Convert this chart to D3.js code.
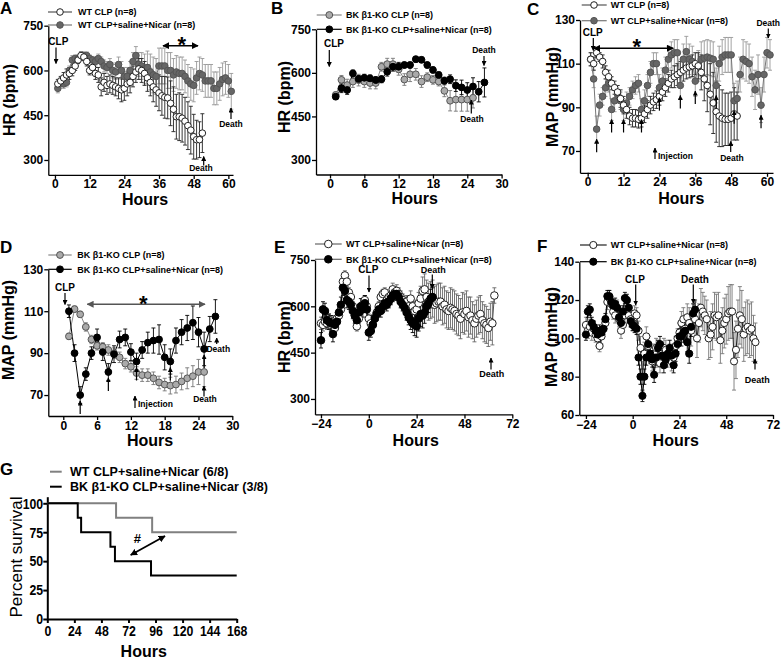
<!DOCTYPE html>
<html><head><meta charset="utf-8">
<script src="https://cdn.jsdelivr.net/npm/d3@7"></script>
<style>body{margin:0;background:#fff}</style>
</head><body><svg id="c" width="781" height="659" style="background:#fff"></svg>
<script>
// ================= DATA =================
// Panel A: HR, WT
const A_wtClp_start = 1;
const A_wtClp = [555,565,575,585,590,600,615,635,650,645,630,600,610,590,585,545,560,550,555,550,545,540,535,540,555,560,580,595,605,600,590,575,560,545,535,525,515,510,508,490,470,445,445,440,430,415,400,378,368,368,390];
const A_wtClp_sem = [15,15,18,20,20,18,15,12,12,12,15,15,18,20,25,30,30,30,30,30,30,35,40,40,40,35,35,35,35,40,40,45,45,50,55,60,65,70,70,75,75,75,80,80,80,80,80,75,65,60,65];
const A_wtNicar_start = 1;
const A_wtNicar = [540,560,555,560,600,635,640,640,645,650,650,640,635,630,640,630,615,610,620,600,595,620,600,580,580,600,630,650,620,615,605,610,595,585,580,615,615,615,600,600,585,595,590,590,580,565,555,550,575,590,585,565,565,565,540,540,555,570,575,565,530];
const A_wtNicar_sem = [15,15,15,15,15,15,12,12,12,12,12,12,12,15,15,15,20,20,20,25,25,25,30,30,30,30,30,30,40,45,50,55,60,60,60,60,60,60,60,60,55,55,55,55,55,55,55,55,55,55,55,55,55,55,55,55,55,55,55,55,60];

// Panel B: HR, BK b1-KO
const B_koClp_start = 1;
const B_koClp = [524,576,558,570,575,570,565,565,621,630,630,612,577,595,595,570,585,576,570,538,504,508,508,508,514];
const B_koClp_sem = [10,15,20,20,20,20,20,20,15,20,20,20,20,25,20,20,15,15,15,20,35,40,40,40,35];
const B_koNicar_start = 1;
const B_koNicar = [518,547,541,598,579,583,581,575,578,604,621,621,627,627,647,645,627,610,593,573,578,556,550,541,553,535,567];
const B_koNicar_sem = [10,15,15,12,12,12,12,12,12,15,15,15,10,10,10,10,10,10,10,12,15,20,25,25,30,35,50];

// Panel C: MAP, WT
const C_wtClp_start = 1;
const C_wtClp = [112,110,115,113,111,106,104,101,99,97,94,91,89,86,85,85,84.5,85,87,89,91,92.5,93.5,95,97,99,101,103,104,105,106,107,108,108.5,109,110,109,106,103,100,96,92,88,86,85,84.5,84.5,85,87,86];
const C_wtClp_sem = [3,3,2,2,3,3,3,3,3,3,4,4,4,4,4,4,4,4,4,4,4,4,4,4,4,4,4,4,5,5,5,5,5,5,5,5,6,8,10,12,14,14,14,14,13,12,12,12,12,11];
const C_wtNicar_start = 1;
const C_wtNicar = [112,103,80,91,95,99,101,89,93,96,93,89,92,95,98,100,101,89,93,100,106,110,110,99,102,107,112,114,115,115,100,112,115.5,112,111,102,109,112,112.5,113,112.5,112,100,110,113,114,114,114,93,94,105,112,111,110,104,98,105,91,105,115,114];
const C_wtNicar_sem = [3,4,6,5,4,4,4,5,5,4,4,5,5,4,4,4,4,5,5,5,5,5,5,6,6,6,6,6,6,6,6,7,7,7,7,7,7,8,8,8,8,8,8,8,8,8,8,8,8,8,8,9,9,9,9,9,9,8,8,7,7];
const C_injections = [3,8,12,18,24,31,36,43,49,58];

// Panel D: MAP, BK b1-KO
const D_koClp_start = 1;
const D_koClp = [98,111,108.5,102.5,96.5,93.5,93,91.5,90,88,85,83.5,80.5,79.5,79.5,78,76,75,74.5,75,76.5,78,79,81,81];
const D_koClp_sem = [1.5,1.5,1.5,2,2,2,2,2.5,2.5,2.5,2.5,2.5,3,3,3,3,3,3,4,4,4,5,5,6,7];
const D_koNicar_start = 1;
const D_koNicar = [110,90,70,80,90,97.5,90.5,81,89.5,96.5,97.5,90.5,86,91.5,95,96,96.5,88,86,96,100,102,104.5,100,92,101.5,107.5];
const D_koNicar_sem = [3,4,4,3,3,4,4,4,4,4,4,4,4,4,5,6,7,6,6,6,6,6,8,7,8,6,8];
const D_injections = [3,8,13,19,25];

// Panel E: HR, WT vs KO (with baseline)
const E_wt_start = -24;
const E_wt = [545,540,550,545,555,540,550,530,560,570,590,680,700,680,645,630,600,570,535,560,590,605,620,600,560,
  545,540,565,580,600,630,640,645,620,630,635,655,645,650,640,630,620,610,615,600,625,600,585,590,610,625,650,655,630,615,620,625,605,610,615,615,600,605,590,585,595,590,585,575,570,560,580,575,585,565,570,555,545,560,570,575,555,545,540,530,550,545,635];
const E_wt_sem = [20,20,20,20,20,20,20,20,20,15,15,15,15,15,15,15,15,15,15,15,15,15,15,15,15,
  15,15,15,15,15,15,15,15,15,15,20,20,20,20,20,20,20,20,20,20,25,25,30,30,35,40,45,50,55,60,60,60,60,60,60,60,60,60,60,60,65,65,65,65,65,65,65,65,65,65,60,60,60,60,60,60,60,60,60,60,60,70,25];
const E_ko_start = -24;
const E_ko = [490,590,585,555,550,545,510,540,550,580,605,660,650,620,615,605,585,570,555,580,600,590,610,590,515,
  520,540,560,575,590,585,600,610,605,615,625,635,640,640,630,615,605,595,580,565,555,545,540,535,560,575,570,580,600,610,625,630];
const E_ko_sem = [25,25,25,25,25,25,25,25,25,25,25,25,25,25,25,25,25,25,25,25,25,25,25,25,25,
  20,20,20,20,20,20,20,20,20,20,20,20,20,20,20,20,20,20,25,25,30,30,35,35,40,40,40,35,35,30,30,30];

// Panel F: MAP, WT vs KO (with baseline)
const F_wt_start = -24;
const F_wt = [107,104,106,103,105,102,100,96,101,105,108,119,121,118,114,112,116,110,104,107,112,115,112,110,108,
  113,112,104,95,80,92,101,96,92,88,92,95,90,87,92,95,94,90,92,88,90,96,100,103,108,110,105,111,108,104,112,110,100,108,116,114,112,110,100,102,106,112,111,112,99,104,108,110,113,114,114,88,94,105,112,110,102,105,106,104,105,100,98];
const F_wt_sem = [4,4,4,4,4,4,4,3,4,4,4,4,4,4,4,4,4,4,4,4,4,4,4,4,4,
  4,4,5,6,8,6,5,5,5,5,5,5,5,5,5,5,5,5,5,5,5,5,5,5,6,6,6,7,8,8,8,9,10,10,10,10,10,10,11,12,12,12,12,12,12,12,13,13,14,14,14,15,15,15,15,15,14,14,14,14,14,12,10];
const F_ko_start = -24;
const F_ko = [102,114,115,108,106,104,102,104,103,105,110,122,122,119,117,118,116,111,108,114,121,120,116,109,107,
  106,105,90,80,70,80,90,97,92,89,81,90,95,97,91,86,89,92,95,91,86,92,97,101,101,103,104,98,92,106,113,115];
const F_ko_sem = [3,3,3,3,3,3,3,3,3,3,3,3,3,3,3,3,3,3,3,3,3,3,3,3,3,
  3,3,4,4,3,4,4,4,4,4,4,4,4,4,4,4,4,4,4,4,4,4,4,4,5,5,5,5,5,5,5,5];

// Panel G: survival
const G_wt_hours = [0,61,93,168];
const G_wt_pct = [100,87.5,75,75];
const G_ko_hours = [0,27,30,56,60,92,168];
const G_ko_pct = [100,87.5,75,62.5,50,37.5,37.5];

// Tick labels
const ticksHrsA = [0,12,24,36,48,60];
const ticksHrsB = [0,6,12,18,24,30];
const ticksHrsE = [-24,0,24,48,72];
const ticksHrsG = [0,24,48,72,96,120,144,168];
const ticksHR = [300,450,600,750];
const ticksMAP = [70,90,110,130];
const ticksMAPF = [60,80,100,120,140];
const ticksSurv = [0,25,50,75,100];

// Legend labels
const lblWtClp = "WT CLP (n=8)";
const lblWtNicar = "WT CLP+saline+Nicar (n=8)";
const lblKoClp = "BK \u03B21-KO CLP (n=8)";
const lblKoNicar = "BK \u03B21-KO CLP+saline+Nicar (n=8)";
const lblGwt = "WT CLP+saline+Nicar (6/8)";
const lblGko = "BK \u03B21-KO CLP+saline+Nicar (3/8)";

// ================= DRAW =================
const FONT = '"Liberation Sans", Arial, Helvetica, sans-serif';
const svg = d3.select('#c');
const defs = svg.append('defs');
function mk(id, size, color){
  defs.append('marker').attr('id',id).attr('viewBox','0 0 10 10').attr('refX',9).attr('refY',5)
    .attr('markerWidth',size).attr('markerHeight',size).attr('markerUnits','userSpaceOnUse')
    .attr('orient','auto-start-reverse')
    .append('path').attr('d','M0,0L10,5L0,10z').attr('fill',color);
}
mk('ah',7,'#000'); mk('ahs',5,'#000'); mk('ahg',7,'#555');

function txt(x,y,s,size,opts={}){
  return svg.append('text').attr('x',x).attr('y',y).text(s)
    .attr('font-family',FONT).attr('font-size',size)
    .attr('font-weight',opts.weight||'bold').attr('fill',opts.fill||'#000')
    .attr('text-anchor',opts.anchor||'start');
}
function vtitle(cx,cy,s,size,weight){
  svg.append('text').attr('transform',`translate(${cx},${cy}) rotate(-90)`)
    .attr('text-anchor','middle').attr('dy','0.35em').text(s)
    .attr('font-family',FONT).attr('font-size',size).attr('font-weight',weight||'bold');
}
function arrow(x1,y1,x2,y2,m,w,col){
  svg.append('line').attr('x1',x1).attr('y1',y1).attr('x2',x2).attr('y2',y2)
    .attr('stroke',col||'#000').attr('stroke-width',w||1.2).attr('marker-end',`url(#${m||'ahs'})`);
}
function darrow(x1,x2,y,col,m){
  svg.append('line').attr('x1',x1).attr('y1',y).attr('x2',x2).attr('y2',y)
    .attr('stroke',col||'#000').attr('stroke-width',1.5)
    .attr('marker-start',`url(#${m||'ah'})`).attr('marker-end',`url(#${m||'ah'})`);
}

const ST = {
  open:  {fill:'#fff', stroke:'#222', line:'#555', bar:'#222', r:3.3},
  gray:  {fill:'#666', stroke:'#555', line:'#777', bar:'#999', r:3.3},
  lgray: {fill:'#aaa', stroke:'#555', line:'#888', bar:'#777', r:3.4},
  black: {fill:'#000', stroke:'#000', line:'#000', bar:'#000', r:3.4},
};
function pts(start, vals, sem){ return vals.map((v,i)=>({h:start+i, v:v, e:sem[i]})); }

function panel(cfg){
  const x = d3.scaleLinear().domain(cfg.xd).range(cfg.xr);
  const y = d3.scaleLinear().domain(cfg.yd).range(cfg.yr);
  const g = svg.append('g');
  const ax = g.append('g').attr('transform',`translate(0,${cfg.yr[0]})`)
    .call(d3.axisBottom(x).tickValues(cfg.xt).tickSize(4).tickSizeOuter(0).tickPadding(cfg.xp!=null?cfg.xp:1));
  const ay = g.append('g').attr('transform',`translate(${cfg.xr[0]},0)`)
    .call(d3.axisLeft(y).tickValues(cfg.yt).tickSize(4).tickSizeOuter(0).tickPadding(1));
  [ax,ay].forEach(a=>{
    a.selectAll('path,line').attr('stroke','#000').attr('stroke-width',cfg.aw||1.3);
    a.selectAll('text').attr('font-size',cfg.tf||12).attr('font-weight','bold').attr('fill','#000').attr('font-family',FONT);
    if(cfg.tsx) a.selectAll('text').attr('transform',`scale(${cfg.tsx},1)`);
  });
  const series = cfg.series || [];
  // error bars
  series.forEach(s=>{
    const st = s.st;
    const eb = g.append('g').attr('stroke',st.bar).attr('stroke-width',0.9);
    s.data.forEach(d=>{
      const xx = x(d.h), y1 = y(d.v+d.e), y2 = y(d.v-d.e);
      eb.append('line').attr('x1',xx).attr('x2',xx).attr('y1',y1).attr('y2',y2);
      eb.append('line').attr('x1',xx-2).attr('x2',xx+2).attr('y1',y1).attr('y2',y1);
      eb.append('line').attr('x1',xx-2).attr('x2',xx+2).attr('y1',y2).attr('y2',y2);
    });
  });
  series.forEach(s=>{
    g.append('path').datum(s.data).attr('fill','none').attr('stroke',s.st.line).attr('stroke-width',1)
      .attr('d',d3.line().x(d=>x(d.h)).y(d=>y(d.v)));
  });
  series.forEach(s=>{
    g.append('g').selectAll('circle').data(s.data).join('circle')
      .attr('cx',d=>x(d.h)).attr('cy',d=>y(d.v)).attr('r',s.r||s.st.r)
      .attr('fill',s.st.fill).attr('stroke',s.st.stroke).attr('stroke-width',1);
  });
  // legend
  if(cfg.legend){
    const L = cfg.legend;
    L.items.forEach(it=>{
      svg.append('line').attr('x1',L.x0).attr('x2',L.x1).attr('y1',it.y).attr('y2',it.y)
        .attr('stroke',it.st.line).attr('stroke-width',1.2);
      svg.append('circle').attr('cx',L.cx).attr('cy',it.y).attr('r',it.st.r)
        .attr('fill',it.st.fill).attr('stroke',it.st.stroke).attr('stroke-width',1);
      txt(L.tx,it.y+3.3,it.label,9);
    });
  }
  return {x,y};
}

// ---- Panel A ----
const pA = panel({xd:[-2.3,61.6], xr:[48.3,233], yd:[250,750], yr:[174.9,25.7], xt:ticksHrsA, yt:ticksHR,
  series:[
    {st:ST.gray, data:pts(A_wtNicar_start,A_wtNicar,A_wtNicar_sem)},
    {st:ST.open, data:pts(A_wtClp_start,A_wtClp,A_wtClp_sem)}],
  legend:{x0:48,x1:72,cx:60,tx:78,items:[{y:12,st:ST.open,label:lblWtClp},{y:25,st:ST.gray,label:lblWtNicar}]}});
txt(0,13.5,'A',17);
vtitle(9,100,'HR (bpm)',16);
txt(145,204.5,'Hours',16,{anchor:'middle'});
txt(58.3,45,'CLP',10,{anchor:'middle'});
arrow(56,47.5,56,63.5,'ahs');
darrow(163,198,45.7);
txt(181.7,52,'*',22,{anchor:'middle'});
txt(201,171,'Death',8.5,{anchor:'middle'});
arrow(203.7,165.5,203.7,156.5,'ahs');
txt(231,126.5,'Death',8.5,{anchor:'middle'});
arrow(231,119,231,108,'ahs');

// ---- Panel B ----
const pB = panel({xd:[-2.45,30], xr:[316,501.6], yd:[250,750], yr:[174.5,29.3], xt:ticksHrsB, yt:ticksHR,
  series:[
    {st:ST.lgray, data:pts(B_koClp_start,B_koClp,B_koClp_sem)},
    {st:ST.black, data:pts(B_koNicar_start,B_koNicar,B_koNicar_sem)}],
  legend:{x0:316.7,x1:341.7,cx:329.3,tx:346,items:[{y:15,st:ST.lgray,label:lblKoClp},{y:29.3,st:ST.black,label:lblKoNicar}]}});
txt(271,13.5,'B',17);
vtitle(284,97,'HR (bpm)',16);
txt(414.7,203.5,'Hours',16,{anchor:'middle'});
txt(334,47.3,'CLP',10,{anchor:'middle'});
arrow(329.3,50,329.3,66.5,'ahs');
txt(484,53.3,'Death',8.5,{anchor:'middle'});
arrow(484,56,484,65.5,'ahs');
txt(472,122,'Death',8.5,{anchor:'middle'});
arrow(471.3,113.5,471.3,100,'ahs');

// ---- Panel C ----
const pC = panel({xd:[-2.57,62], xr:[580,773], yd:[60,130], yr:[172.8,20], xt:ticksHrsA, yt:ticksMAP,
  series:[
    {st:ST.gray, data:pts(C_wtNicar_start,C_wtNicar,C_wtNicar_sem)},
    {st:ST.open, data:pts(C_wtClp_start,C_wtClp,C_wtClp_sem)}],
  legend:{x0:581.7,x1:606.7,cx:594,tx:610.7,items:[{y:5,st:ST.open,label:lblWtClp},{y:20.7,st:ST.gray,label:lblWtNicar}]}});
txt(527,15,'C',17);
vtitle(552.5,97,'MAP (mmHg)',16);
txt(681.3,203.5,'Hours',16,{anchor:'middle'});
txt(592.7,36,'CLP',10,{anchor:'middle'});
arrow(593.3,38,593.3,50.5,'ahs');
darrow(594,673.3,48.3);
txt(636.7,54,'*',22,{anchor:'middle'});
C_injections.forEach(h=>{
  const v = C_wtNicar[h - C_wtNicar_start];
  const yt = pC.y(v)+10;
  arrow(pC.x(h),yt+13,pC.x(h),yt,'ahs');
});
arrow(655,159,655,148,'ahs');
txt(658,158.5,'Injection',8.5);
txt(732,161,'Death',8.5,{anchor:'middle'});
arrow(730.7,152,730.7,141.5,'ahs');
txt(780,26,'Death',8.5,{anchor:'end'});
arrow(768.3,28.5,768.3,38,'ahs');

// ---- Panel D ----
const pD = panel({xd:[-2.66,30], xr:[48.3,232.3], yd:[60,130], yr:[416,269.3], xt:ticksHrsB, yt:ticksMAP,
  series:[
    {st:ST.lgray, data:pts(D_koClp_start,D_koClp,D_koClp_sem)},
    {st:ST.black, data:pts(D_koNicar_start,D_koNicar,D_koNicar_sem)}],
  legend:{x0:48.3,x1:71.7,cx:60,tx:77.3,items:[{y:255,st:ST.lgray,label:lblKoClp},{y:269.3,st:ST.black,label:lblKoNicar}]}});
txt(0,253,'D',17);
vtitle(8,330,'MAP (mmHg)',16);
txt(150,446,'Hours',16,{anchor:'middle'});
txt(65,291,'CLP',10,{anchor:'middle'});
arrow(65,293,65,304.5,'ahs');
darrow(87.3,205,304.3,'#555','ahg');
txt(143.3,311,'*',22,{anchor:'middle'});
D_injections.forEach(h=>{
  const v = D_koNicar[h - D_koNicar_start];
  const yt = pD.y(v)+6;
  arrow(pD.x(h),yt+13,pD.x(h),yt,'ahs');
});
arrow(135,408,135,396,'ahs');
txt(138,406.5,'Injection',8.5);
txt(218.3,352,'Death',8.5,{anchor:'middle'});
arrow(216.7,344,216.7,338,'ahs');
txt(205,402,'Death',8.5,{anchor:'middle'});
arrow(204,396.5,204,386,'ahs');

// ---- Panel E ----
const pE = panel({xd:[-27,72], xr:[315,512.3], yd:[250,750], yr:[414.4,260], xt:ticksHrsE, yt:ticksHR,
  series:[
    {st:{fill:'#fff',stroke:'#222',line:'#555',bar:'#666',r:3.8}, data:pts(E_wt_start,E_wt,E_wt_sem)},
    {st:{fill:'#000',stroke:'#000',line:'#000',bar:'#000',r:3.8}, data:pts(E_ko_start,E_ko,E_ko_sem)}],
  legend:{x0:315,x1:341.7,cx:328.3,tx:346,items:[
    {y:244,st:{fill:'#fff',stroke:'#222',line:'#666',r:3.8},label:lblWtNicar},
    {y:259.3,st:{fill:'#000',stroke:'#000',line:'#666',r:3.8},label:lblKoNicar}]}});
txt(274,253,'E',17);
vtitle(284,337,'HR (bpm)',16);
txt(415.7,446,'Hours',16,{anchor:'middle'});
txt(368.3,273.3,'CLP',10,{anchor:'middle'});
arrow(369,275.5,369,292,'ahs');
txt(433.3,272.7,'Death',9,{anchor:'middle'});
arrow(432.3,274.5,432.3,288.5,'ahs');
txt(491.7,377,'Death',9,{anchor:'middle'});
arrow(491,369.5,491,358,'ahs');

// ---- Panel F ----
const pF = panel({xd:[-27.4,72], xr:[579.3,773], yd:[60,140], yr:[415,261.7], xt:ticksHrsE, yt:ticksMAPF,
  series:[
    {st:{fill:'#fff',stroke:'#222',line:'#222',bar:'#777',r:3.6}, data:pts(F_wt_start,F_wt,F_wt_sem)},
    {st:{fill:'#000',stroke:'#000',line:'#000',bar:'#000',r:3.6}, data:pts(F_ko_start,F_ko,F_ko_sem)}],
  legend:{x0:580,x1:606.7,cx:593.3,tx:610.7,items:[
    {y:245,st:{fill:'#fff',stroke:'#222',line:'#222',r:3.6},label:lblWtNicar},
    {y:261.7,st:{fill:'#000',stroke:'#000',line:'#000',r:3.6},label:lblKoNicar}]}});
txt(537,252,'F',17);
vtitle(551,337,'MAP (mmHg)',16);
txt(675.7,446,'Hours',16,{anchor:'middle'});
txt(635,282.7,'CLP',10,{anchor:'middle'});
arrow(635.7,284.5,635.7,305,'ahs');
txt(695,282.7,'Death',10,{anchor:'middle'});
arrow(693.3,284.5,693.3,303,'ahs');
txt(757.3,383,'Death',9,{anchor:'middle'});
arrow(755,369.5,755,359,'ahs');

// ---- Panel G ----
const pG = panel({xd:[0,168], xr:[47.3,236.7], yd:[0,105.7], yr:[619,496.7], xt:ticksHrsG, yt:ticksSurv, aw:2, tf:15, tsx:0.82, xp:2});
const gWt = G_wt_hours.map((h,i)=>({h:h, s:G_wt_pct[i]}));
const gKo = G_ko_hours.map((h,i)=>({h:h, s:G_ko_pct[i]}));
const stepLine = d3.line().x(d=>pG.x(d.h)).y(d=>pG.y(d.s)).curve(d3.curveStepAfter);
svg.append('path').datum(gWt).attr('d',stepLine).attr('fill','none').attr('stroke','#808080').attr('stroke-width',2);
svg.append('path').datum(gKo).attr('d',stepLine).attr('fill','none').attr('stroke','#000').attr('stroke-width',2);
svg.append('line').attr('x1',pG.x(74)).attr('y1',pG.y(55.3)).attr('x2',pG.x(104.4)).attr('y2',pG.y(71.7))
  .attr('stroke','#000').attr('stroke-width',1.8).attr('marker-start','url(#ah)').attr('marker-end','url(#ah)');
txt(pG.x(80),pG.y(66),'#',13,{anchor:'middle'});
svg.append('line').attr('x1',50).attr('x2',61.7).attr('y1',471.7).attr('y2',471.7).attr('stroke','#808080').attr('stroke-width',2);
svg.append('line').attr('x1',50).attr('x2',61.7).attr('y1',486.7).attr('y2',486.7).attr('stroke','#000').attr('stroke-width',2);
txt(70,476,lblGwt,12.5);
txt(70,491,lblGko,12.5);
txt(0,475,'G',17);
vtitle(16,557,'Percent survival',17,'normal');
txt(143.7,657,'Hours',16,{anchor:'middle'});
</script>
</body></html>
